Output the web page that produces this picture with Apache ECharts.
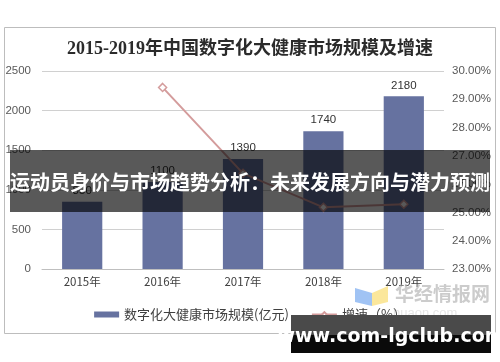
<!DOCTYPE html>
<html><head><meta charset="utf-8">
<script src="https://cdn.jsdelivr.net/npm/echarts@6/dist/echarts.min.js"></script>
<style>html,body{margin:0;padding:0;background:#fff}#c{width:500px;height:362px}</style>
</head><body><div id="c"></div>
<script>
var years = ['2015年','2016年','2017年','2018年','2019年'];
var marketSize = [850, 1100, 1390, 1740, 2180];
var growth = [null, 29.42, 26.38, 25.18, 25.29];
var leftTicks = [0, 500, 1000, 1500, 2000, 2500];
var rightTicks = [23, 24, 25, 26, 27, 28, 29, 30];
var titleText = '2015-2019年中国数字化大健康市场规模及增速';
var barName = '数字化大健康市场规模(亿元)';
var lineName = '增速（%）';
var bannerText = '运动员身价与市场趋势分析：未来发展方向与潜力预测';
var siteText = 'www.com-lgclub.com';

var chart = echarts.init(document.getElementById('c'), null, {renderer:'canvas'});
chart.setOption({
  animation:false,
  backgroundColor:'#fff',
  title:{text:titleText,left:'center',top:35,textStyle:{fontSize:18,fontWeight:'bold',color:'#2b2b2b',fontFamily:'"Liberation Serif","Noto Sans CJK SC",serif'}},
  grid:{left:42,right:56,top:71,bottom:93},
  legend:{bottom:36,left:'center',itemGap:22,itemWidth:25,itemHeight:6,
    textStyle:{fontSize:13,color:'#404040',fontFamily:'"Noto Sans CJK SC",sans-serif'},
    data:[{name:barName,icon:'rect'},{name:lineName}]},
  xAxis:{type:'category',data:years,
    axisLine:{lineStyle:{color:'#bfbfbf'}},axisTick:{lineStyle:{color:'#bfbfbf'},length:5},
    axisLabel:{color:'#404040',fontSize:11.5,margin:7,fontFamily:'"Noto Sans CJK SC",sans-serif'}},
  yAxis:[
    {type:'value',min:leftTicks[0],max:leftTicks[leftTicks.length-1],interval:500,
     axisLabel:{color:'#595959',fontSize:11.5,margin:11,formatter:function(v){return String(v);},fontFamily:'"Liberation Sans",Arial,sans-serif'},
     splitLine:{lineStyle:{color:'#d0d0d0'}},axisLine:{show:false},axisTick:{show:false}},
    {type:'value',min:rightTicks[0],max:rightTicks[rightTicks.length-1],interval:1,
     axisLabel:{color:'#595959',fontSize:11.5,margin:8,formatter:function(v){return v.toFixed(2)+'%';},fontFamily:'"Liberation Sans",Arial,sans-serif'},
     splitLine:{show:false},axisLine:{show:false},axisTick:{show:false}}
  ],
  series:[
    {name:barName,type:'bar',data:marketSize,barWidth:'50%',itemStyle:{color:'#6672a0'},
     label:{show:true,position:'top',distance:5,color:'#333',fontSize:11.5,fontFamily:'"Liberation Sans",Arial,sans-serif'}},
    {name:lineName,type:'line',yAxisIndex:1,data:growth,symbol:'diamond',symbolSize:8,
     lineStyle:{color:'#d49c9c',width:2},itemStyle:{color:'#fff',borderColor:'#d49c9c',borderWidth:1.5}}
  ],
  graphic:[
    {type:'rect',shape:{x:4.5,y:27.5,width:491,height:306},style:{fill:'none',stroke:'#bdbdbd',lineWidth:1},z:1,silent:true},
    {type:'rect',shape:{x:10,y:150,width:480,height:62},style:{fill:'rgba(0,0,0,0.65)'},z:100},
    {type:'text',x:250,y:182,style:{text:bannerText,fill:'#fff',fontSize:20,fontWeight:'bold',align:'center',verticalAlign:'middle',fontFamily:'"Noto Sans CJK SC",sans-serif'},z:101},
    {type:'polygon',shape:{points:[[355,288],[372,293],[372,306],[355,302]]},style:{fill:'rgba(120,170,240,0.7)'},z:90},
    {type:'polygon',shape:{points:[[372,293],[388,286],[388,302],[372,306]]},style:{fill:'rgba(250,225,130,0.8)'},z:90},
    {type:'text',x:395,y:294,style:{text:'华经情报网',fill:'rgba(170,170,170,0.6)',fontSize:19,fontWeight:'bold',verticalAlign:'middle',fontFamily:'"Noto Sans CJK SC",sans-serif'},z:90},
    {type:'text',x:393,y:313,style:{text:'huaon.com',fill:'rgba(190,190,190,0.4)',fontSize:13,verticalAlign:'middle',fontFamily:'"Liberation Sans",sans-serif'},z:90},
    {type:'rect',shape:{x:291,y:315,width:200,height:20},style:{fill:'#4a4a4a'},z:110},
    {type:'rect',shape:{x:291,y:335,width:200,height:18},style:{fill:'#0a0a0a'},z:110},
    {type:'text',x:391,y:337,style:{text:siteText,fill:'#fff',fontSize:19,fontWeight:'bold',align:'center',verticalAlign:'middle',fontFamily:'"DejaVu Sans",sans-serif'},z:111}
  ]
});
</script></body></html>
